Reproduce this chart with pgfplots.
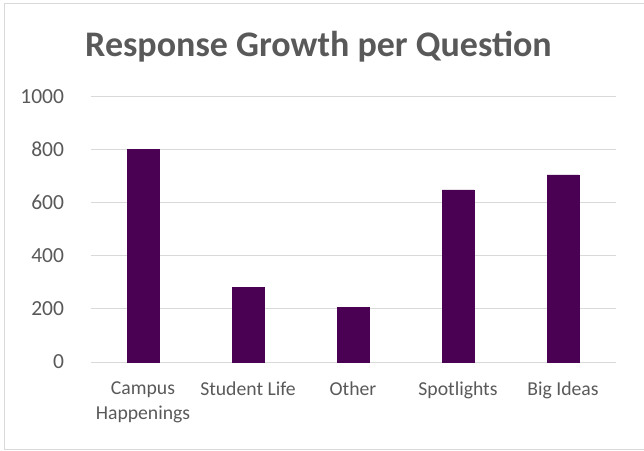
\documentclass[border=0pt]{standalone}
\usepackage{fontspec}
\setmainfont{Carlito}
\usepackage{pgfplots}
\pgfplotsset{compat=1.18}
\definecolor{barc}{HTML}{4A0053}
\definecolor{gridc}{HTML}{D9D9D9}
\definecolor{txt}{HTML}{595959}
\begin{document}
\begin{tikzpicture}[x=1pt,y=1pt]
\path[use as bounding box] (0,0) rectangle (644,450);
\draw[gridc, line width=1pt] (4.5,0) -- (4.5,446.5) -- (644,446.5);
\draw[gridc, line width=1pt] (4.5,1) -- (644,1);
\node[anchor=base, font=\fontsize{36}{42}\selectfont\bfseries, text=txt, inner sep=0pt] at (318.5, 393) {Response Growth per Question};
\begin{axis}[
  at={(90.5pt,88pt)}, anchor=south west,
  scale only axis, width=525pt, height=265.5pt,
  xmin=-0.5, xmax=4.5, ymin=0, ymax=1000,
  ytick={0,200,...,1000}, xtick={0,1,2,3,4},
  xticklabels={{Campus\\Happenings},{Student Life},{Other},{Spotlights},{Big Ideas}},
  axis line style={draw=none}, major tick length=0,
  ymajorgrids, grid style={gridc, line width=1pt},
  ybar, bar width=32pt,
  /pgf/number format/assume math mode=true,
  /pgf/number format/1000 sep={},
  tick label style={text=txt},
  xticklabel style={font=\fontsize{19.7}{25}\selectfont, align=center, yshift=-16pt},
  yticklabel style={font=\fontsize{21.5}{25}\selectfont, xshift=-23pt},
]
\addplot[fill=barc, draw=barc] coordinates {(0,800) (1,280) (2,206) (3,648) (4,705)};
\end{axis}
\end{tikzpicture}
\end{document}
